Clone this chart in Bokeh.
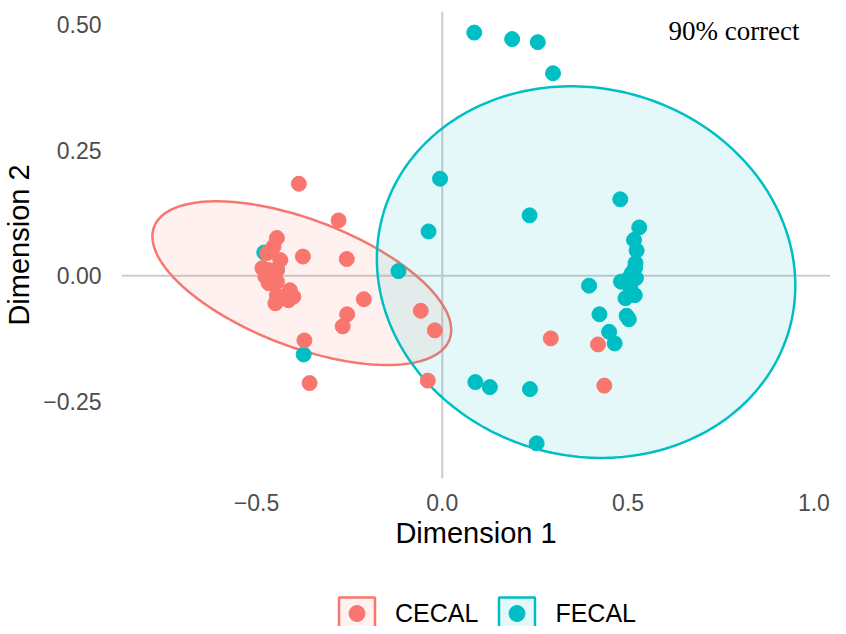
import numpy as np
from bokeh.plotting import figure
from bokeh.layouts import column
from bokeh.models import Span, Legend, LegendItem, FixedTicker, ColumnDataSource
from bokeh.embed import file_html
from bokeh.resources import INLINE
from bokeh.core.properties import value

# ---------------- data ----------------
groups = ["CECAL", "FECAL"]
group_colors = ["#F8766D", "#00BFC4"]

cecal_x = [0.292, 0.419, 0.436, -0.386, -0.279, -0.445, -0.454, -0.471, -0.436, -0.375,
           -0.257, -0.484, -0.467, -0.445, -0.476, -0.454, -0.467, -0.445, -0.445, -0.410,
           -0.401, -0.449, -0.414, -0.211, -0.256, -0.268, -0.058, -0.020, -0.371, -0.357,
           -0.039]
cecal_y = [-0.125, -0.137, -0.219, 0.183, 0.110, 0.075, 0.058, 0.045, 0.031, 0.038,
           0.033, 0.015, 0.011, 0.011, -0.002, -0.009, -0.015, -0.012, -0.039, -0.029,
           -0.042, -0.055, -0.049, -0.047, -0.077, -0.101, -0.070, -0.109, -0.129, -0.214,
           -0.209]

fecal_x = [0.086, 0.188, 0.257, 0.298, -0.006, 0.235, 0.479, -0.037, -0.118, -0.479,
           -0.445, -0.373, 0.089, 0.128, 0.236, 0.254, 0.530, 0.516, 0.523, 0.520,
           0.519, 0.510, 0.521, 0.502, 0.481, 0.506, 0.518, 0.493, 0.395, 0.423,
           0.496, 0.502, 0.449, 0.464]
fecal_y = [0.484, 0.471, 0.465, 0.403, 0.193, 0.120, 0.152, 0.088, 0.009, 0.046,
           0.012, -0.157, -0.212, -0.222, -0.226, -0.334, 0.096, 0.071, 0.050, 0.025,
           0.016, 0.005, -0.005, -0.005, -0.012, -0.025, -0.039, -0.045, -0.020, -0.077,
           -0.080, -0.087, -0.112, -0.135]

# confidence ellipse parameters per group (centre, spread, correlation)
ell_cx = [-0.378, 0.387]
ell_cy = [-0.015, 0.007]
ell_sx = [0.402, 0.563]
ell_sy = [0.163, 0.370]
ell_r = [-0.571, -0.072]

x_ticks = [-0.5, 0.0, 0.5, 1.0]
x_tick_labels = ["\u22120.5", "0.0", "0.5", "1.0"]
y_ticks = [-0.25, 0.0, 0.25, 0.5]
y_tick_labels = ["\u22120.25", "0.00", "0.25", "0.50"]

annotation_text = "90% correct"
annotation_x = [0.785]
annotation_y = [0.488]


def ellipse_outline(cx, cy, sx, sy, r, n=240):
    cov = np.array([[sx * sx, r * sx * sy], [r * sx * sy, sy * sy]])
    L = np.linalg.cholesky(cov)
    t = np.linspace(0, 2 * np.pi, n)
    circ = np.vstack([np.cos(t), np.sin(t)])
    pts = L @ circ
    return (pts[0] + cx).tolist(), (pts[1] + cy).tolist()


SANS = "Liberation Sans"
group_x = [cecal_x, fecal_x]
group_y = [cecal_y, fecal_y]
outlines = [ellipse_outline(ell_cx[i], ell_cy[i], ell_sx[i], ell_sy[i], ell_r[i])
            for i in range(2)]

p = figure(width=830, height=560,
           x_range=(-0.8632, 1.0447), y_range=(-0.404, 0.526),
           output_backend="svg", toolbar_location=None,
           min_border_left=105, min_border_right=0,
           min_border_top=11, min_border_bottom=82)

p.xgrid.visible = False
p.ygrid.visible = False
p.outline_line_color = None
p.background_fill_color = "white"
p.border_fill_color = "white"

# zero reference lines
for dim in ("width", "height"):
    s = Span(location=0, dimension=dim, line_color="#CCCCCC", line_width=2,
             level="underlay")
    p.add_layout(s)

# ellipses
for i in range(2):
    ex, ey = outlines[i]
    p.patch(ex, ey, fill_color=group_colors[i], fill_alpha=0.1,
            line_color=group_colors[i], line_width=2.5)

# points (FECAL first, CECAL on top)
for i in (1, 0):
    src = ColumnDataSource(dict(x=group_x[i], y=group_y[i]))
    p.scatter("x", "y", source=src, size=15, fill_color=group_colors[i],
              line_color=group_colors[i])

p.text(x=annotation_x, y=annotation_y, text=[annotation_text],
       text_font=value("Liberation Serif"), text_font_size="27px",
       text_align="center", text_baseline="middle", text_color="black")

# axes
for ax in (p.xaxis[0], p.yaxis[0]):
    ax.axis_line_color = None
    ax.major_tick_line_color = None
    ax.minor_tick_line_color = None
    ax.major_label_text_font = SANS
    ax.major_label_text_font_size = "23px"
    ax.major_label_text_color = "#4D4D4D"
    ax.axis_label_text_font = SANS
    ax.axis_label_text_font_size = "29px"
    ax.axis_label_text_font_style = "normal"
    ax.axis_label_text_color = "black"

p.xaxis.ticker = FixedTicker(ticks=x_ticks)
p.xaxis.major_label_overrides = dict(zip(x_ticks, x_tick_labels))
p.yaxis.ticker = FixedTicker(ticks=y_ticks)
p.yaxis.major_label_overrides = dict(zip(y_ticks, y_tick_labels))
p.xaxis.axis_label = "Dimension 1"
p.yaxis.axis_label = "Dimension 2"
p.xaxis.major_label_standoff = 9
p.yaxis.major_label_standoff = 14
p.xaxis.axis_label_standoff = 3
p.yaxis.axis_label_standoff = 5

# ---------------- legend strip below the plot ----------------
leg = figure(width=830, height=66, x_range=(10, 11), y_range=(10, 11),
             x_axis_type=None, y_axis_type=None,
             output_backend="svg", toolbar_location=None,
             min_border_left=0, min_border_right=0,
             min_border_top=0, min_border_bottom=0)
leg.xgrid.visible = False
leg.ygrid.visible = False
leg.outline_line_color = None
leg.background_fill_color = "white"
leg.border_fill_color = "white"

items = []
for i in range(2):
    ex, ey = outlines[i]
    pr = leg.patch(ex, ey, fill_color=group_colors[i], fill_alpha=0.1,
                   line_color=group_colors[i], line_width=2.5)
    sr = leg.scatter(group_x[i], group_y[i], size=15, fill_color=group_colors[i],
                     line_color=group_colors[i])
    items.append(LegendItem(label=groups[i], renderers=[pr, sr]))

legend = Legend(items=items, location=(213, -7), orientation="horizontal",
                glyph_width=45, glyph_height=40, label_standoff=16, spacing=16,
                padding=0, margin=0, border_line_alpha=0, background_fill_alpha=0,
                label_text_font=SANS, label_text_font_size="25px",
                label_text_color="black")
leg.add_layout(legend)

layout = column(p, leg, spacing=0)
open("out.html", "w").write(file_html(layout, INLINE))
